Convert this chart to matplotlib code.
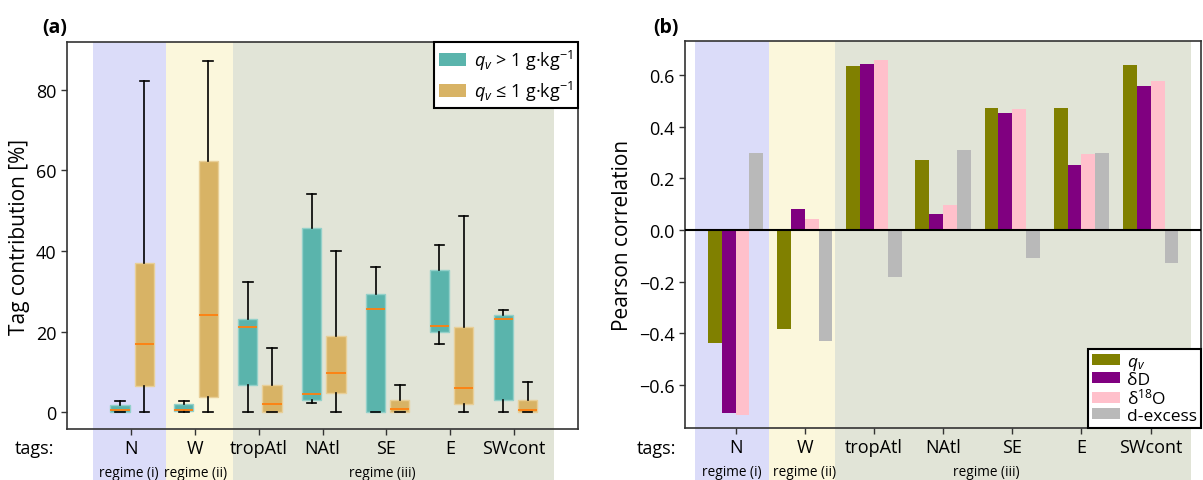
import numpy as np
import matplotlib
matplotlib.use('Agg')
import matplotlib.pyplot as plt
import matplotlib.transforms as mtransforms
from matplotlib.patches import Rectangle, Patch

plt.rcParams['font.family'] = ['Open Sans', 'DejaVu Sans']
plt.rcParams['mathtext.fontset'] = 'custom'
plt.rcParams['mathtext.rm'] = 'Open Sans'
plt.rcParams['mathtext.it'] = 'Open Sans:italic'
plt.rcParams['mathtext.bf'] = 'Open Sans:bold'

tags = ['N', 'W', 'tropAtl', 'NAtl', 'SE', 'E', 'SWcont']
regimes = ['regime (i)', 'regime (ii)', 'regime (iii)']

# box stats for qv > 1 g/kg
wet_lo = [0.0, 0.0, 0.0, 2.2, 0.0, 17.0, 0.0]
wet_q1 = [0.0, 0.2, 6.8, 2.9, 0.0, 19.9, 3.1]
wet_med = [0.5, 0.5, 21.1, 4.4, 25.5, 21.5, 23.0]
wet_q3 = [1.7, 2.0, 23.0, 45.7, 29.4, 35.4, 24.0]
wet_hi = [2.8, 2.8, 32.2, 54.1, 36.0, 41.5, 25.3]

# box stats for qv <= 1 g/kg
dry_lo = [0.0, 0.0, 0.0, 0.0, 0.0, 0.0, 0.0]
dry_q1 = [6.4, 3.7, 0.0, 4.7, 0.0, 2.1, 0.0]
dry_med = [16.8, 24.2, 2.1, 9.6, 0.7, 6.1, 0.4]
dry_q3 = [37.1, 62.4, 6.7, 18.9, 3.0, 21.2, 3.1]
dry_hi = [82.2, 87.2, 16.0, 39.9, 6.8, 48.6, 7.5]

# pearson correlations
corr_qv = [-0.437, -0.383, 0.635, 0.273, 0.471, 0.472, 0.640]
corr_dD = [-0.707, 0.080, 0.643, 0.064, 0.454, 0.252, 0.557]
corr_d18O = [-0.718, 0.042, 0.660, 0.097, 0.468, 0.295, 0.577]
corr_dex = [0.299, -0.429, -0.180, 0.309, -0.108, 0.297, -0.127]

shade_cols = ['#dbdcf9', '#fbf7dc', '#e1e4d7']


def stats(lo, q1, med, q3, hi):
    return [dict(whislo=a, q1=b, med=c, q3=d, whishi=e, fliers=[])
            for a, b, c, d, e in zip(lo, q1, med, q3, hi)]


def shade(ax, spans, texts, text_x):
    trans = mtransforms.blended_transform_factory(ax.transData, ax.transAxes)
    for (x0, x1), c in zip(spans, shade_cols):
        ax.add_patch(Rectangle((x0, -0.3), x1 - x0, 1.3, transform=trans,
                               facecolor=c, edgecolor='none', zorder=0, clip_on=False))
    for t, x in zip(texts, text_x):
        ax.text(x, -0.113, t, transform=trans, ha='center', va='center', fontsize=9.8)


def style(ax):
    for s in ax.spines.values():
        s.set_color('#333333')
        s.set_linewidth(1.2)
    ax.tick_params(labelsize=13, length=4, width=1, color='#333333')


fig = plt.figure(figsize=(12.03, 4.81), dpi=100)
ax1 = fig.add_axes([0.0557, 0.106, 0.4248, 0.8046])
ax2 = fig.add_axes([0.5694, 0.108, 0.4291, 0.8045])

# ---- (a) box plots
pos = np.arange(1, len(tags) + 1)
shade(ax1, [(0.41, 1.55), (1.55, 2.6), (2.6, 7.62)], regimes, [0.96, 2.02, 4.94])
common = dict(widths=0.3, patch_artist=True, showfliers=False, manage_ticks=False,
              medianprops=dict(color='#ff7f0e', lw=1.3),
              whiskerprops=dict(color='black', lw=1.2),
              capprops=dict(color='black', lw=1.2))
ax1.bxp(stats(wet_lo, wet_q1, wet_med, wet_q3, wet_hi), positions=pos - 0.17,
        boxprops=dict(facecolor='#5ab4ac', edgecolor='#93d0c9', lw=1), **common)
ax1.bxp(stats(dry_lo, dry_q1, dry_med, dry_q3, dry_hi), positions=pos + 0.21,
        boxprops=dict(facecolor='#d8b365', edgecolor='#e8cf98', lw=1), **common)
ax1.set_xlim(0, 8)
ax1.set_ylim(-4.2, 91.9)
ax1.set_xticks(pos)
ax1.set_xticklabels(tags)
ax1.set_yticks([0, 20, 40, 60, 80])
ax1.set_ylabel('Tag contribution [%]', fontsize=15)
style(ax1)
leg1 = ax1.legend(handles=[Patch(facecolor='#5ab4ac', label=r'$q_v$ > 1 g·kg$^{-1}$'),
                           Patch(facecolor='#d8b365', label=r'$q_v$ ≤ 1 g·kg$^{-1}$')],
                  loc='upper right', borderaxespad=0, fontsize=13, fancybox=False,
                  framealpha=1, edgecolor='black', handlelength=1.5, handleheight=0.75,
                  labelspacing=0.4, handletextpad=0.4, borderpad=0.3)
leg1.get_frame().set_linewidth(1.5)

# ---- (b) correlation bars
x = np.arange(len(tags))
shade(ax2, [(-0.59, 0.48), (0.48, 1.44), (1.44, 6.58)], regimes, [-0.05, 1.0, 3.63])
series = [(corr_qv, '#808000', r'$q_v$'), (corr_dD, '#800080', 'δD'),
          (corr_d18O, '#ffc0cb', r'δ$^{18}$O'), (corr_dex, '#b9b9b9', 'd-excess')]
for i, (vals, col, lab) in enumerate(series):
    ax2.bar(x + (i - 1.5) * 0.2, vals, width=0.2, color=col, label=lab, zorder=2)
ax2.axhline(0, color='black', lw=1.5, zorder=3)
ax2.set_xlim(-0.73, 6.73)
ax2.set_ylim(-0.767, 0.732)
ax2.set_xticks(x)
ax2.set_xticklabels(tags)
ax2.set_yticks([-0.6, -0.4, -0.2, 0.0, 0.2, 0.4, 0.6])
ax2.set_ylabel('Pearson correlation', fontsize=15)
style(ax2)
leg2 = ax2.legend(loc='lower right', borderaxespad=0, fontsize=12.5, fancybox=False,
                  framealpha=1, edgecolor='black', handlelength=1.6, handleheight=0.6,
                  labelspacing=0.0, handletextpad=0.4, borderpad=0.25)
leg2.get_frame().set_linewidth(1.5)

# panel labels and "tags:"
fig.text(67 / 1203, 1 - 28 / 481, '(a)', ha='right', va='center', fontsize=14, fontweight='bold')
fig.text(679 / 1203, 1 - 28 / 481, '(b)', ha='right', va='center', fontsize=14, fontweight='bold')
fig.text(54 / 1203, 1 - 449 / 481, 'tags:', ha='right', va='center', fontsize=13)
fig.text(676 / 1203, 1 - 449 / 481, 'tags:', ha='right', va='center', fontsize=13)

fig.savefig('out.png', dpi=100)
